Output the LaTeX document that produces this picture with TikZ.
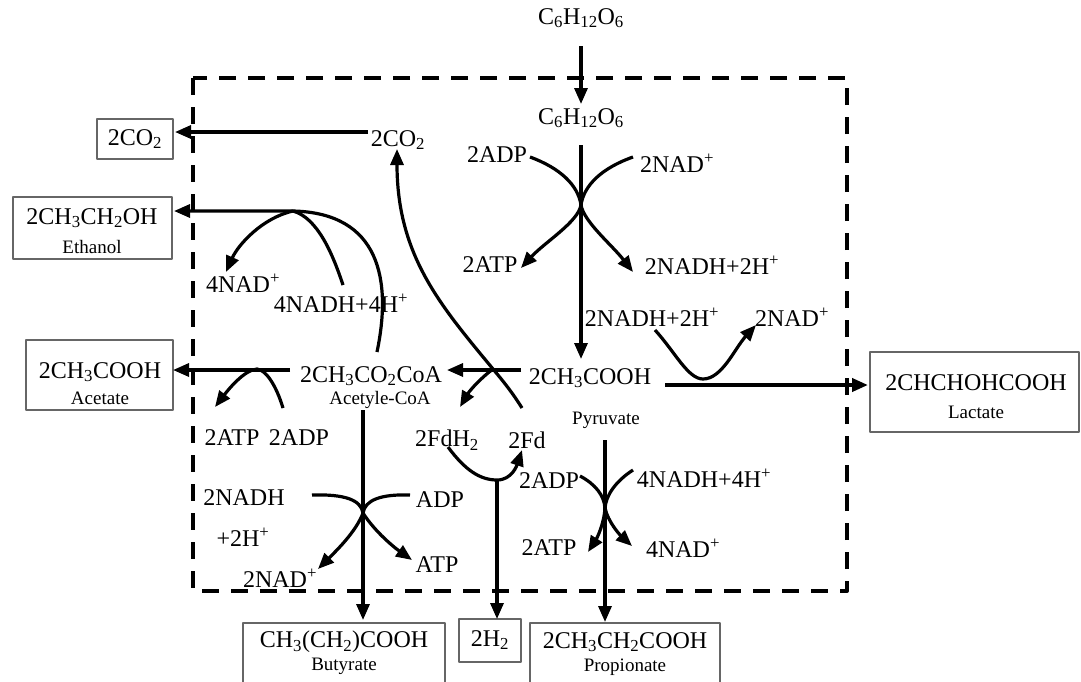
\documentclass[tikz,border=0pt]{standalone}
\usepackage{fontspec}
\setmainfont{Liberation Serif}
\usetikzlibrary{arrows.meta}
\newcommand\chsub[1]{\textsubscript{#1}}
\newcommand\chsup[1]{\textsuperscript{#1}}
\begin{document}
\begin{tikzpicture}[x=1pt,y=-1pt,line join=round]
\tikzset{
  chem/.style={font=\fontsize{24}{26}\selectfont, inner sep=0pt},
  tag/.style={font=\fontsize{19}{21}\selectfont, inner sep=0pt},
  endbox/.style={draw=black!60, line width=1.3pt, inner sep=0pt},
  flow/.style={line width=3.2pt},
  flowarr/.style={flow, -{Triangle[length=16pt,width=13pt]}},
  cellwall/.style={line width=4pt, dash pattern=on 17pt off 12pt},
}
\useasboundingbox (0,0) rectangle (1081,681);

% cell boundary
\draw[cellwall] (193,78) rectangle (847,591);

% ---- metabolites and cofactors ----
\node[chem] (glcOut) at (581,18) {C\chsub{6}H\chsub{12}O\chsub{6}};
\node[chem] (glcIn)  at (581,118) {C\chsub{6}H\chsub{12}O\chsub{6}};
\node[chem] (adpA)   at (497,155) {2ADP};
\node[chem] (nadA)   at (677,163) {2NAD\chsup{+}};
\node[chem] (atpA)   at (490,265) {2ATP};
\node[chem] (nadhA)  at (712,265) {2NADH+2H\chsup{+}};
\node[chem] (nadhB)  at (652,317) {2NADH+2H\chsup{+}};
\node[chem] (nadB)   at (792,317) {2NAD\chsup{+}};
\node[chem] (pyr)    at (590,378) {2CH\chsub{3}COOH};
\node[tag]  (pyrTag) at (606,420) {Pyruvate};
\node[chem] (acoa)   at (371,376) {2CH\chsub{3}CO\chsub{2}CoA};
\node[tag]  (acoaTag) at (380,400) {Acetyle-CoA};
\node[chem] (co2In)  at (398,140) {2CO\chsub{2}};
\node[chem] (nadC)   at (243,283) {4NAD\chsup{+}};
\node[chem] (nadhC)  at (341,303) {4NADH+4H\chsup{+}};
\node[chem] (atpD)   at (232,438) {2ATP};
\node[chem] (adpD)   at (299,438) {2ADP};
\node[chem] (fdh)    at (447,440) {2FdH\chsub{2}};
\node[chem] (fd)     at (527,440) {2Fd};
\node[chem] (nadhE)  at (244,498) {2NADH};
\node[chem] (hE)     at (243,537) {+2H\chsup{+}};
\node[chem] (nadE)   at (280,578) {2NAD\chsup{+}};
\node[chem] (adpE)   at (440,500) {ADP};
\node[chem] (atpE)   at (437,565) {ATP};
\node[chem] (adpF)   at (549,481) {2ADP};
\node[chem] (nadhF)  at (704,478) {4NADH+4H\chsup{+}};
\node[chem] (atpF)   at (549,548) {2ATP};
\node[chem] (nadF)   at (683,548) {4NAD\chsup{+}};

% ---- end products ----
\node[endbox, minimum width=76pt,  minimum height=40pt] (co2Box) at (135,139) {};
\node[chem] (co2Out) at (135,139) {2CO\chsub{2}};
\node[endbox, minimum width=159pt, minimum height=62pt] (etohBox) at (92.5,228) {};
\node[chem] (etoh) at (92,218) {2CH\chsub{3}CH\chsub{2}OH};
\node[tag]  (etohTag) at (92,247) {Ethanol};
\node[endbox, minimum width=147pt, minimum height=70pt] (acBox) at (99.5,375) {};
\node[chem] (ac) at (100,372) {2CH\chsub{3}COOH};
\node[tag]  (acTag) at (100,398) {Acetate};
\node[endbox, minimum width=209pt, minimum height=80pt] (lacBox) at (974.5,392) {};
\node[chem] (lac) at (976,383) {2CHCHOHCOOH};
\node[tag]  (lacTag) at (976,412) {Lactate};
\node[endbox, minimum width=202pt, minimum height=80pt] (butBox) at (344,663) {};
\node[chem] (but) at (344,642) {CH\chsub{3}(CH\chsub{2})COOH};
\node[tag]  (butTag) at (344,666) {Butyrate};
\node[endbox, minimum width=62pt,  minimum height=43pt] (h2Box) at (490,640.5) {};
\node[chem] (h2) at (490,640) {2H\chsub{2}};
\node[endbox, minimum width=190pt, minimum height=80pt] (proBox) at (625,663) {};
\node[chem] (pro) at (625,642) {2CH\chsub{3}CH\chsub{2}COOH};
\node[tag]  (proTag) at (625,667) {Propionate};

% ---- connector ports and junctions ----
\coordinate (g1) at (581,46);   \coordinate (g2) at (581,104);
\coordinate (g3) at (581,145);  \coordinate (g4) at (581,359);
\coordinate (jA) at (581,205);
\coordinate (aS) at (530,157);  \coordinate (aT) at (521,268);
\coordinate (bS) at (633,157);  \coordinate (bT) at (633,272);
\coordinate (nS) at (655,330);  \coordinate (nV) at (703,379);  \coordinate (nT) at (756,325);
\coordinate (lS) at (665,385);  \coordinate (lT) at (868,385);
\coordinate (pS) at (521,370);  \coordinate (pT) at (447,370);
\coordinate (fdS) at (522,408); \coordinate (fdX) at (493,369); \coordinate (co2T) at (397,149);
\coordinate (fdhT) at (460,407);
\coordinate (eS) at (377,352);  \coordinate (eK) at (293,211);  \coordinate (eT) at (174,211);
\coordinate (nhS) at (343,285); \coordinate (nadT) at (226,272);
\coordinate (co2S) at (368,132); \coordinate (co2E) at (175,132);
\coordinate (acS) at (290,370); \coordinate (acT) at (173,370);
\coordinate (atS) at (283,408); \coordinate (atX) at (257,369); \coordinate (atT) at (215,407);
\coordinate (buS) at (363,410); \coordinate (buT) at (363,620);
\coordinate (cS) at (312,495);  \coordinate (jC) at (363,513);  \coordinate (cT) at (318,569);
\coordinate (dS) at (410,495);  \coordinate (dT) at (412,560);
\coordinate (hS) at (448,447);  \coordinate (hV) at (497,480);  \coordinate (hT) at (522,450);
\coordinate (h2T) at (497,619);
\coordinate (prS) at (605,440); \coordinate (prT) at (605,622);
\coordinate (eeS) at (580,476); \coordinate (jE) at (605,508);  \coordinate (eeT) at (588,552);
\coordinate (ffS) at (633,470); \coordinate (ffT) at (632,546);

% ---- glucose uptake and glycolysis ----
\draw[flowarr] (g1) -- (g2);
\draw[flowarr] (g3) -- (g4);
\draw[flowarr] (aS) .. controls (560,168) and (578,185) .. (jA) .. controls (578,222) and (545,242) .. (aT);
\draw[flowarr] (bS) .. controls (602,168) and (584,185) .. (jA) .. controls (584,222) and (612,245) .. (bT);

% ---- lactate ----
\draw[flowarr] (nS) .. controls (675,352) and (688,379) .. (nV) .. controls (722,379) and (735,348) .. (nT);
\draw[flowarr, line width=3.8pt] (lS) -- (lT);

% ---- pyruvate to acetyl-CoA, CO2 and reduced ferredoxin ----
\draw[flowarr] (pS) -- (pT);
\draw[flowarr] (fdS) .. controls (512,392) and (503,381) .. (fdX) .. controls (440,305) and (397,255) .. (co2T);
\draw[flowarr] (fdX) .. controls (482,377) and (470,390) .. (fdhT);
\draw[flowarr] (co2S) -- (co2E);

% ---- ethanol ----
\draw[flowarr] (eS) .. controls (392,280) and (380,213) .. (eK) -- (eT);
\draw[flow] (nhS) .. controls (333,255) and (318,218) .. (eK);
\draw[flowarr] (eK) .. controls (262,218) and (238,245) .. (nadT);

% ---- acetate ----
\draw[flowarr] (acS) -- (acT);
\draw[flowarr] (atS) .. controls (276,385) and (266,370) .. (atX) .. controls (244,370) and (228,390) .. (atT);

% ---- butyrate ----
\draw[flowarr] (buS) -- (buT);
\draw[flowarr] (cS) .. controls (345,494) and (361,500) .. (jC) .. controls (356,532) and (335,552) .. (cT);
\draw[flowarr] (dS) .. controls (381,494) and (365,500) .. (jC) .. controls (375,532) and (395,548) .. (dT);

% ---- hydrogen ----
\draw[flowarr] (hS) .. controls (465,470) and (480,480) .. (hV) .. controls (512,480) and (517,465) .. (hT);
\draw[flowarr] (hV) -- (h2T);

% ---- propionate ----
\draw[flowarr] (prS) -- (prT);
\draw[flowarr] (eeS) .. controls (595,484) and (604,495) .. (jE) .. controls (604,524) and (597,538) .. (eeT);
\draw[flowarr] (ffS) .. controls (616,481) and (606,495) .. (jE) .. controls (608,522) and (620,535) .. (ffT);
\end{tikzpicture}
\end{document}
